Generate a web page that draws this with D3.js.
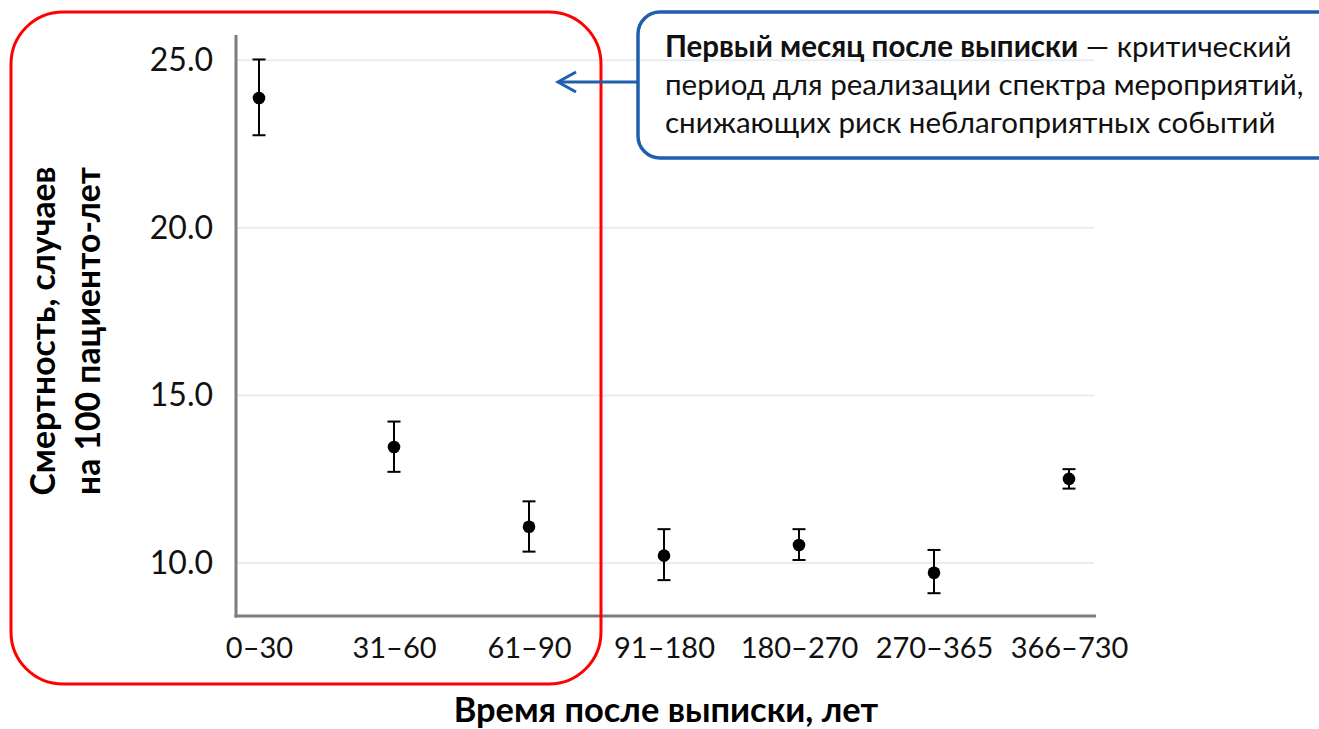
<!DOCTYPE html>
<html lang="ru">
<head>
<meta charset="utf-8">
<script src="https://cdn.jsdelivr.net/npm/d3@7"></script>
<style>
  html, body { margin: 0; padding: 0; background: #fff; }
  svg { display: block; font-family: Lato, "Open Sans", "Noto Sans", sans-serif; }
</style>
</head>
<body>
<svg id="chart" width="1319" height="729"></svg>
<script>
// Периоды после выписки (дни)
const categories = ["0–30", "31–60", "61–90", "91–180", "180–270", "270–365", "366–730"];
// Смертность на 100 пациенто-лет и границы доверительного интервала
const rate  = [23.87, 13.46, 11.08, 10.22, 10.54, 9.71, 12.51];
const lower = [22.76, 12.72, 10.34,  9.49, 10.09, 9.10, 12.22];
const upper = [25.02, 14.22, 11.84, 11.01, 11.01, 10.39, 12.80];
const yTicks = [10, 15, 20, 25];

const yTitleLines = ["Смертность, случаев", "на 100 пациенто-лет"];
const xTitle = "Время после выписки, лет";
const noteBold = "Первый месяц после выписки";
const noteLines = [" — критический", "период для реализации спектра мероприятий,", "снижающих риск неблагоприятных событий"];

const svg = d3.select("#chart");

// Plot area
const plotL = 236, plotR = 1096, plotT = 35, plotB = 616;

const x = d3.scalePoint().domain(categories).range([plotL + 23, plotR - 27]);
const y = d3.scaleLinear().domain([8.42, 25.75]).range([plotB, plotT]);

const data = categories.map((c, i) => ({ c, v: rate[i], lo: lower[i], hi: upper[i] }));

// Gridlines
svg.append("g")
  .selectAll("line")
  .data(yTicks)
  .join("line")
  .attr("x1", plotL).attr("x2", plotR - 2)
  .attr("y1", d => y(d)).attr("y2", d => y(d))
  .attr("stroke", "#e6edf2").attr("stroke-width", 2);

// Y axis
const yAxis = svg.append("g")
  .attr("transform", `translate(${plotL},0)`)
  .call(d3.axisLeft(y).tickValues(yTicks).tickFormat(d3.format(".1f")).tickSize(0).tickPadding(23));
yAxis.select(".domain").remove();
yAxis.selectAll("text")
  .attr("font-size", 32).attr("fill", "#111").attr("font-family", "Lato, sans-serif");

// X axis
const xAxis = svg.append("g")
  .attr("transform", `translate(0,${plotB})`)
  .call(d3.axisBottom(x).tickSize(0).tickPadding(21));
xAxis.select(".domain").remove();
xAxis.selectAll("text")
  .attr("font-size", 29).attr("fill", "#111").attr("font-family", "Lato, sans-serif");

// Axis lines
svg.append("line")
  .attr("x1", plotL).attr("x2", plotL).attr("y1", plotT).attr("y2", plotB + 1.5)
  .attr("stroke", "#7f7b7b").attr("stroke-width", 3);
svg.append("line")
  .attr("x1", plotL - 1.5).attr("x2", plotR).attr("y1", plotB).attr("y2", plotB)
  .attr("stroke", "#7f7b7b").attr("stroke-width", 3);

// Error bars
const eb = svg.append("g").attr("stroke", "#000").attr("stroke-width", 2);
eb.selectAll(".stem").data(data).join("line")
  .attr("x1", d => x(d.c)).attr("x2", d => x(d.c))
  .attr("y1", d => y(d.hi)).attr("y2", d => y(d.lo));
eb.selectAll(".capHi").data(data).join("line")
  .attr("x1", d => x(d.c) - 6.5).attr("x2", d => x(d.c) + 6.5)
  .attr("y1", d => y(d.hi)).attr("y2", d => y(d.hi));
eb.selectAll(".capLo").data(data).join("line")
  .attr("x1", d => x(d.c) - 6.5).attr("x2", d => x(d.c) + 6.5)
  .attr("y1", d => y(d.lo)).attr("y2", d => y(d.lo));

// Points
svg.append("g").selectAll("circle").data(data).join("circle")
  .attr("cx", d => x(d.c)).attr("cy", d => y(d.v)).attr("r", 6.3)
  .attr("fill", "#000");

// Axis titles
yTitleLines.forEach((t, i) => {
  svg.append("text")
    .attr("transform", `translate(${55 + i * 45},331) rotate(-90)`)
    .attr("text-anchor", "middle")
    .attr("font-size", 33.7).attr("font-weight", "bold").attr("fill", "#000")
    .text(t);
});

svg.append("text")
  .attr("x", 666).attr("y", 722)
  .attr("text-anchor", "middle")
  .attr("font-size", 34.4).attr("font-weight", "bold").attr("fill", "#000")
  .text(xTitle);

// Highlight frame around the first three periods
svg.append("rect")
  .attr("x", 11).attr("y", 12).attr("width", 590).attr("height", 672)
  .attr("rx", 52).attr("ry", 52)
  .attr("fill", "none").attr("stroke", "#ff0000").attr("stroke-width", 3);

// Callout box
const blue = "#1f5fae";
svg.append("rect")
  .attr("x", 638).attr("y", 12).attr("width", 720).attr("height", 146)
  .attr("rx", 22).attr("ry", 22)
  .attr("fill", "none").attr("stroke", blue).attr("stroke-width", 3.5);

// Arrow from callout to the frame
svg.append("line")
  .attr("x1", 638).attr("x2", 558).attr("y1", 82).attr("y2", 82)
  .attr("stroke", blue).attr("stroke-width", 3);
svg.append("path")
  .attr("d", "M576,72 L558,82 L576,92")
  .attr("fill", "none").attr("stroke", blue).attr("stroke-width", 3)
  .attr("stroke-linejoin", "miter");

const note = svg.append("g").attr("font-size", 29.5).attr("fill", "#111");
const l1 = note.append("text").attr("x", 665).attr("y", 57);
l1.append("tspan").attr("font-weight", "bold").text(noteBold);
l1.append("tspan").text(noteLines[0]);
note.append("text").attr("x", 665).attr("y", 95).text(noteLines[1]);
note.append("text").attr("x", 665).attr("y", 133).text(noteLines[2]);
</script>
</body>
</html>
